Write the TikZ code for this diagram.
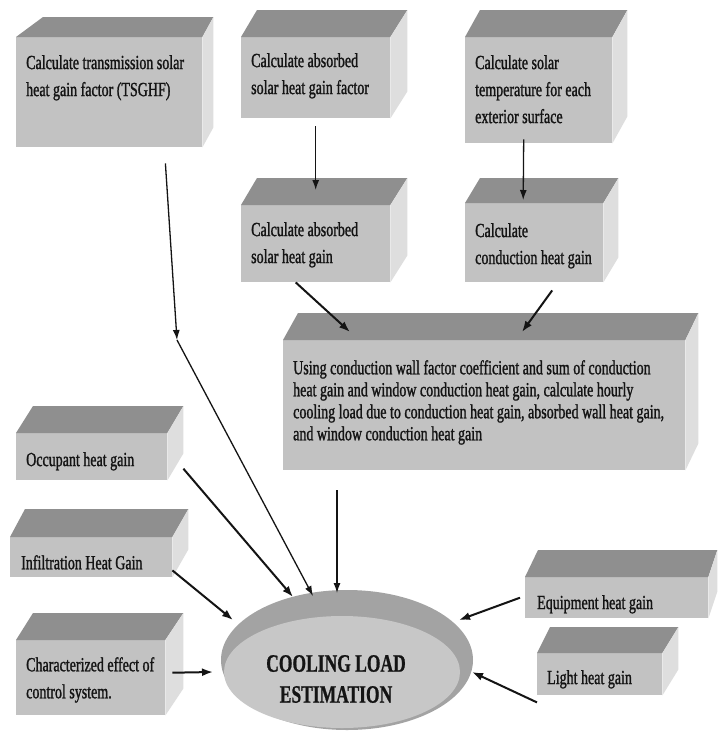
\documentclass[tikz,border=0pt]{standalone}
\usepackage{fontspec}
\newfontfamily\cond[FakeStretch=0.7,FakeBold=1.2]{Liberation Serif}
\newfontfamily\condb[FakeStretch=0.7,FakeBold=0.8]{Liberation Serif Bold}
\usetikzlibrary{arrows.meta,calc,shapes.geometric}
\definecolor{frontc}{gray}{0.76}
\definecolor{topc}{gray}{0.56}
\definecolor{sidec}{gray}{0.87}
\definecolor{rimc}{gray}{0.64}
\definecolor{facec}{gray}{0.78}
\definecolor{inkc}{gray}{0.08}
\tikzset{
  frontface/.style={fill=frontc, draw=none, inner sep=0pt, anchor=north west},
  lbl/.style={inner sep=0pt, anchor=north west, align=left, text=inkc, font=\cond\fontsize{20}{27}\selectfont},
  biglbl/.style={inner sep=0pt, anchor=north west, align=left, text=inkc, font=\cond\fontsize{20}{22}\selectfont},
  conn/.style={line width=1.3pt, draw=inkc, -{Latex[length=10pt,width=7pt]}},
  thickconn/.style={line width=2pt, draw=inkc, -{Latex[length=11pt,width=8pt]}}
}
\newcommand{\cube}[9]{%
  \node[frontface, minimum width=#4pt, minimum height=#5pt] (#1) at (#2,#3) {};
  \fill[topc] (#1.north west) -- ++(#6,-#8) -- ($(#1.north east)+(#7,-#8)$) -- (#1.north east) -- cycle;
  \fill[sidec] (#1.north east) -- ++(#7,-#8) -- ($(#1.south east)+(#7,-#8)$) -- (#1.south east) -- cycle;
}
\begin{document}
\begin{tikzpicture}[x=1pt,y=-1pt]
\useasboundingbox (0,0) rectangle (724,732);
\fill[white] (0,0) rectangle (724,732);

\cube{b1}{16}{37}{186}{110}{27}{11}{20}{}
\cube{b2}{241}{37}{149}{81}{16}{17}{27}{}
\cube{b3}{465}{37}{147}{106}{15}{15}{27}{}
\cube{b4}{241}{205}{149}{77}{16}{17}{27}{}
\cube{b5}{465}{203}{138}{79}{15}{15}{25}{}
\cube{big}{283}{340}{402}{130}{15}{13}{27}{}
\cube{occ}{16}{433}{151}{47}{17}{16}{27}{}
\cube{inf}{10}{537}{162}{40}{15}{16}{28}{}
\cube{chr}{16}{640}{149}{75}{17}{18}{27}{}
\cube{eqp}{525}{577}{183}{41}{13}{9}{27}{}
\cube{lgt}{537}{653}{125}{42}{13}{16}{26}{}

\node[lbl] (b1t) at ($(b1.north west)+(10,18)$) {Calculate transmission solar\\heat gain factor (TSGHF)};
\node[lbl] (b2t) at ($(b2.north west)+(10,16)$) {Calculate absorbed\\solar heat gain factor};
\node[lbl] (b3t) at ($(b3.north west)+(10,18)$) {Calculate solar\\temperature for each\\exterior surface};
\node[lbl] (b4t) at ($(b4.north west)+(10,17)$) {Calculate absorbed\\solar heat gain};
\node[lbl] (b5t) at ($(b5.north west)+(10,20)$) {Calculate\\conduction heat gain};
\node[biglbl] (bigt) at ($(big.north west)+(10,20)$) {Using conduction wall factor coefficient and sum of conduction\\heat gain and window conduction heat gain, calculate hourly\\cooling load due to conduction heat gain, absorbed wall heat gain,\\and window conduction heat gain};
\node[lbl] (occt) at ($(occ.north west)+(10,19)$) {Occupant heat gain};
\node[lbl] (inft) at ($(inf.north west)+(11,18)$) {Infiltration Heat Gain};
\node[lbl] (chrt) at ($(chr.north west)+(10,17)$) {Characterized effect of\\control system.};
\node[lbl] (eqpt) at ($(eqp.north west)+(12,18)$) {Equipment heat gain};
\node[lbl] (lgtt) at ($(lgt.north west)+(10,17)$) {Light heat gain};

% central disc
\node[ellipse, fill=rimc, draw=none, minimum width=252pt, minimum height=140pt, inner sep=0pt] (ell) at (347,660) {};
\node[ellipse, fill=facec, draw=none, minimum width=236pt, minimum height=112pt, inner sep=0pt] (ellface) at (342,672) {};
\node[align=center, inner sep=0pt, text=inkc, font=\condb\fontsize{25}{31}\selectfont] (ellt) at (336,679) {COOLING LOAD\\ESTIMATION};

% connectors
\coordinate (bend) at (177,340);
\draw[conn] ($(b2.south)+(0,8)$) -- ($(b4.north)+(0,-15)$);
\draw[conn] ($(b3.south)+(-15,-4)$) -- ($(b5.north)+(-11,-3)$);
\draw[thickconn] ($(b4.south)+(-20,0)$) -- ($(big.north west)+(67,-8)$);
\draw[thickconn] ($(b5.south)+(18,8)$) -- ($(big.north west)+(239,-8)$);
\draw[conn] ($(b1.south east)+(-37,16)$) -- (bend);
\draw[conn] (bend) -- ($(ell.center)+(-34,-64)$);
\draw[thickconn] ($(occ.east)+(16,12)$) -- ($(ell.center)+(-54,-63)$);
\draw[conn] ($(big.south west)+(54,20)$) -- ($(ell.center)+(-10,-67)$);
\draw[thickconn] ($(inf.south east)+(0,-7)$) -- ($(ell.center)+(-114,-40)$);
\draw[thickconn] ($(chr.east)+(7,-5)$) -- ($(ell.center)+(-134,12)$);
\draw[thickconn] ($(eqp.west)+(-5,0)$) -- ($(ell.center)+(112,-40)$);
\draw[thickconn] ($(lgt.south west)+(0,7)$) -- ($(ell.center)+(125,12)$);
\end{tikzpicture}
\end{document}
